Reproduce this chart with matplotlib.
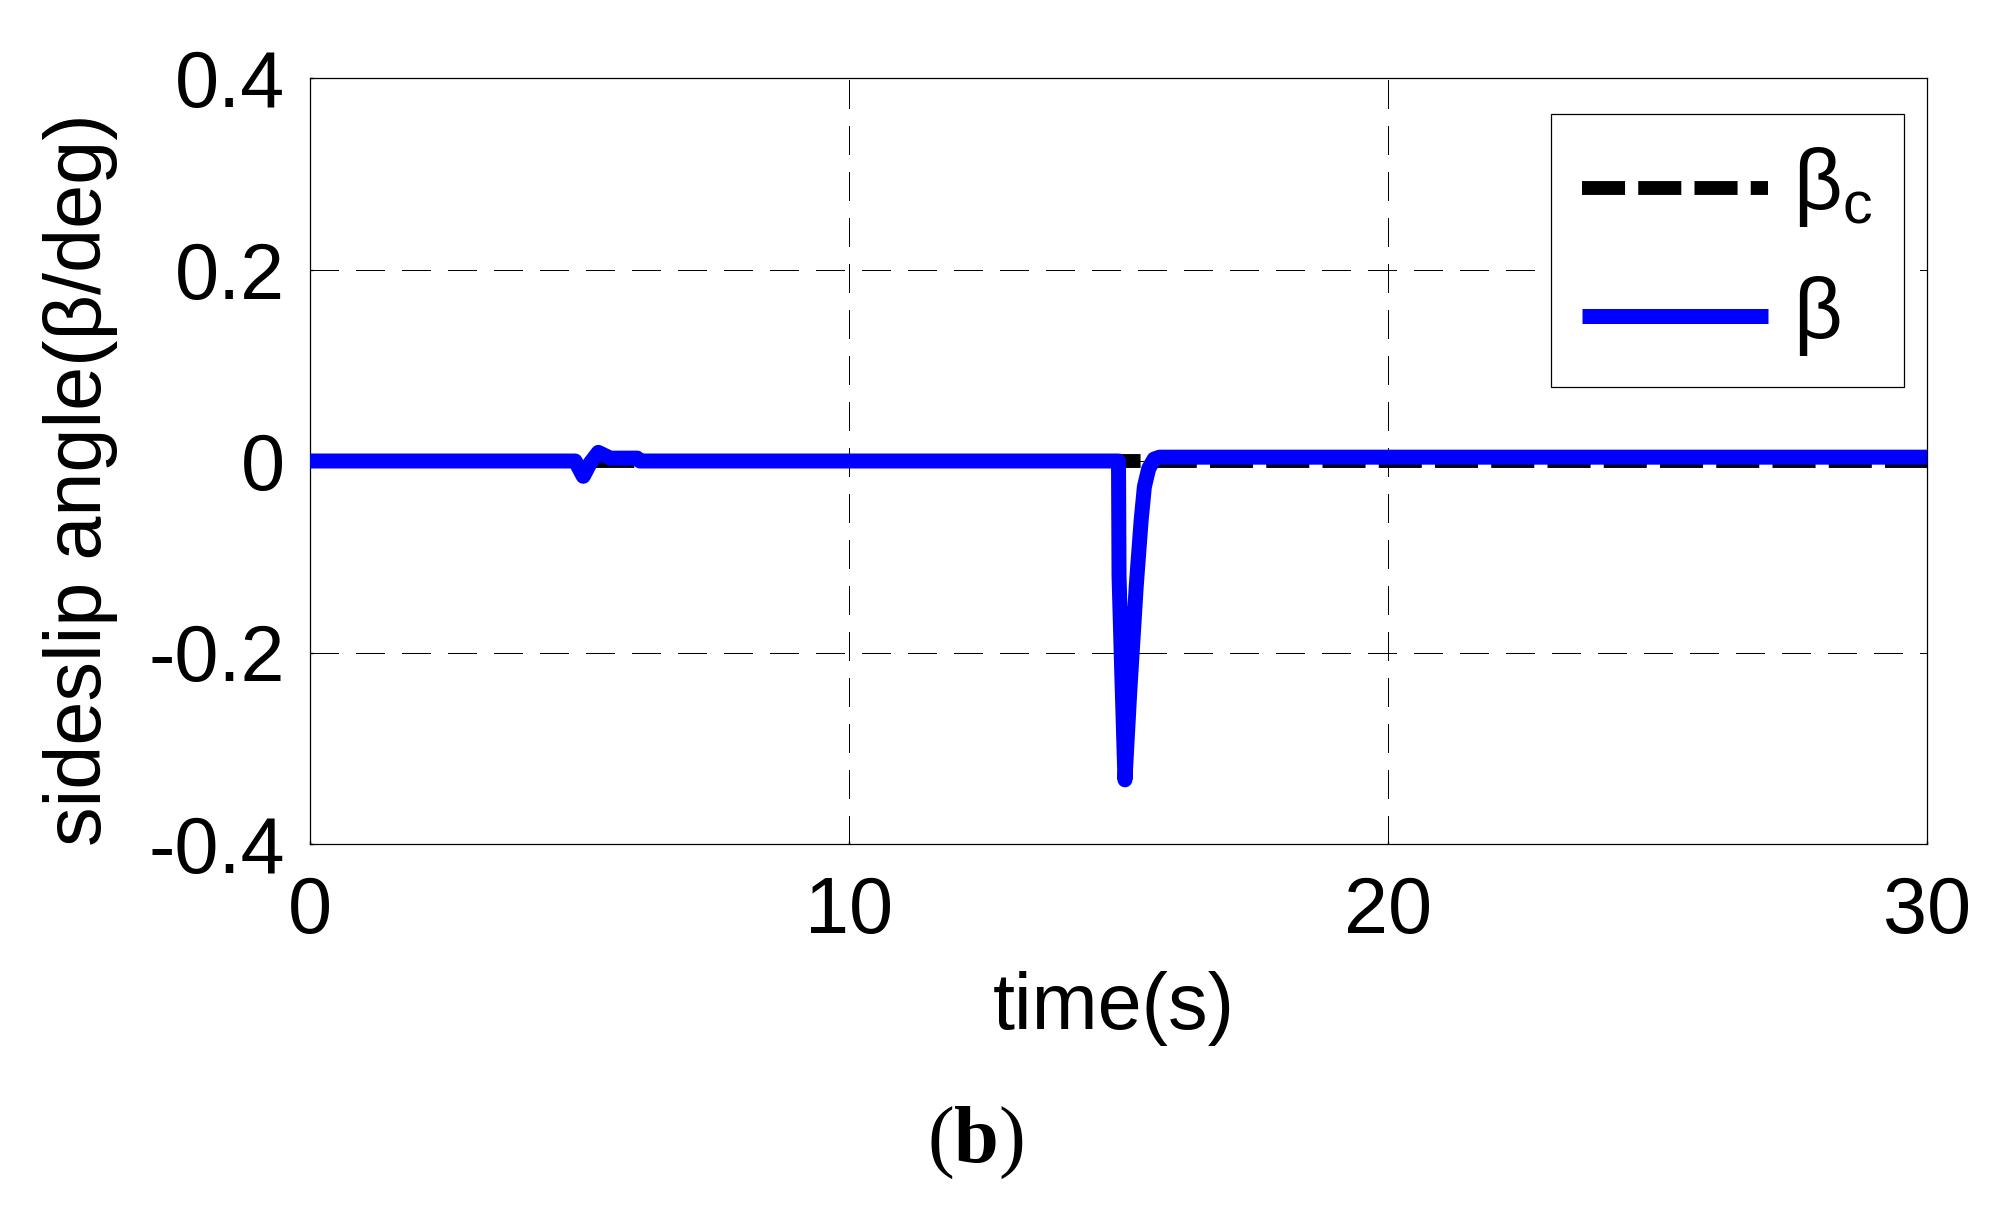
import matplotlib
matplotlib.use("Agg")
import matplotlib.pyplot as plt

plt.rcParams['font.family'] = ['Liberation Sans', 'DejaVu Sans']
plt.rcParams['mathtext.fontset'] = 'custom'
plt.rcParams['mathtext.rm'] = 'Liberation Sans'
plt.rcParams['mathtext.bf'] = 'Liberation Serif:bold'

# ---- data ----
time_cmd = [0, 30]
beta_cmd = [0, 0]

time_beta = [0, 4.92, 5.07, 5.2, 5.35, 5.57, 6.07, 6.12, 15.0, 15.01, 15.06,
             15.12, 15.21, 15.33, 15.42, 15.48, 15.56, 15.66, 15.76, 30]
beta_act = [0, 0, -0.016, -0.002, 0.009, 0.003, 0.003, 0, 0, -0.12, -0.22,
            -0.333, -0.24, -0.13, -0.062, -0.027, -0.008, 0.002, 0.004, 0.004]

x_ticks = [0, 10, 20, 30]
y_ticks = [-0.4, -0.2, 0, 0.2, 0.4]
y_tick_labels = ['-0.4', '-0.2', '0', '0.2', '0.4']

W, H = 1991, 1206
fig = plt.figure(figsize=(W / 100, H / 100), dpi=100)
ax = fig.add_axes([310 / W, 1 - 844 / H, (1927 - 310) / W, (844 - 78) / H])

FS = 57
LFS = 61
ax.plot(time_cmd, beta_cmd, color='black', lw=10, dashes=(3.1, 0.95),
        dash_capstyle='butt', label=r'β$_\mathrm{c}$', zorder=3)
ax.plot(time_beta, beta_act, color='#0000ff', lw=10.8, label='β',
        solid_joinstyle='round', solid_capstyle='butt', zorder=4)

ax.set_xlim(0, 30)
ax.set_ylim(-0.4, 0.4)
ax.set_xticks(x_ticks)
ax.set_yticks(y_ticks)
ax.set_yticklabels(y_tick_labels)
ax.tick_params(direction='in', length=2, width=1, labelsize=FS, pad=18)
ax.tick_params(axis='x', pad=22)
for s in ax.spines.values():
    s.set_linewidth(0.9)
ax.grid(True, color='black', lw=0.72, dashes=(28, 18), antialiased=False)

leg = ax.legend(loc='upper right', bbox_to_anchor=(1 - 23 / 1617, 1 - 36 / 766),
                fontsize=LFS, frameon=True, fancybox=False, borderaxespad=0,
                handlelength=2.2, handletextpad=0.295, borderpad=0.366,
                labelspacing=0.55, handleheight=0.05)
leg.get_frame().set_edgecolor('black')
leg.get_frame().set_linewidth(0.9)
leg.get_frame().set_alpha(1)

fig.text(81 / W, 1 - 480 / H, 'sideslip angle(β/deg)', rotation=90,
         fontsize=FS, ha='center', va='center')
fig.text(1114 / W, 1 - 1008 / H, 'time(s)', fontsize=FS, ha='center', va='center')
fig.text(975 / W, 1 - 1143 / H, r'($\mathbf{b}$)', fontsize=58,
         family='Liberation Serif', ha='center', va='center')

fig.savefig('out.png', dpi=100)
